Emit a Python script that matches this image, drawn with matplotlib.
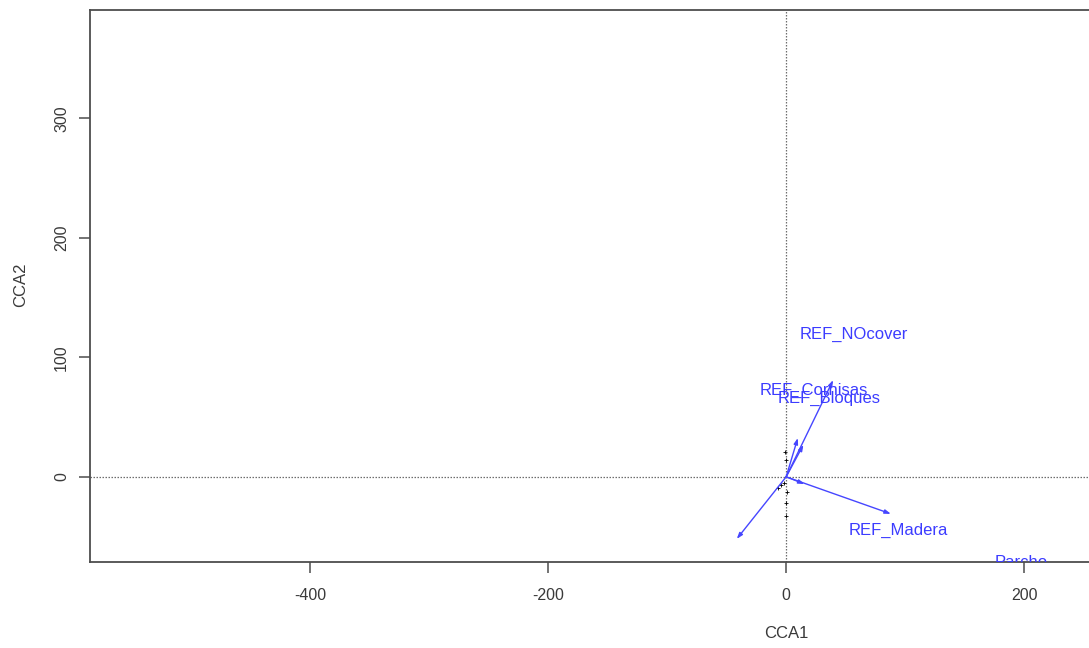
import matplotlib
matplotlib.use("Agg")
import matplotlib.pyplot as plt

plt.rcParams['font.family'] = ['Liberation Sans', 'DejaVu Sans']

# Biplot arrows (environmental variables), CCA1 / CCA2 scores of arrow tips
arrow_x = [39.5, 9.8, 14.5, 88.0, -41.5, 15.4]
arrow_y = [81.0, 32.5, 26.8, -31.0, -52.0, -6.0]

# Variable labels and their positions
label_names = ["REF_NOcover", "REF_Cornisas", "REF_Bloques", "REF_Madera", "Parcho"]
label_x = [56.7, 23.4, 36.1, 94.5, 197.5]
label_y = [118.8, 72.0, 65.3, -45.2, -71.5]

# Site scores clustered around the origin
site_x = [-4.0, -6.5, -2.0, 0.5, 0.0, 0.0, 0.0, -1.0]
site_y = [-7.0, -9.5, -5.0, -13.0, -22.0, -33.0, 14.0, 21.0]

x_ticks = [-400, -200, 0, 200]
y_ticks = [0, 100, 200, 300]

W, H = 1089, 648
fig = plt.figure(figsize=(W / 100, H / 100), dpi=100)
fig.patch.set_facecolor('white')

# Plot region: left 90px, top 10px, bottom 562px; it runs past the right edge
xlim = (-585.0, 585.0)
ylim = (-71.3, 390.8)
left_px, top_px, bottom_px = 90, 10, 562
px_per_x = 1.19
right_px = left_px + (xlim[1] - xlim[0]) * px_per_x
ax_w_px = right_px - left_px
ax_h_px = bottom_px - top_px
ax = fig.add_axes([left_px / W, (H - bottom_px) / H, ax_w_px / W, ax_h_px / H])
ax.set_xlim(*xlim)
ax.set_ylim(*ylim)

edge = '#4d4d4d'
txt = '#3a3a3a'
fs = 12
for s in ax.spines.values():
    s.set_color(edge)
    s.set_linewidth(1.3)

ax.set_xticks(x_ticks)
ax.set_yticks(y_ticks)
ax.set_xticklabels([str(v) for v in x_ticks])
ax.set_yticklabels([str(v) for v in y_ticks], rotation=90, va='center')
ax.tick_params(axis='both', direction='out', length=8, width=1.1, color=edge,
               labelsize=fs - 0.5, labelcolor=txt)
ax.tick_params(axis='x', pad=11)
ax.tick_params(axis='y', pad=7)

ax.set_xlabel('CCA1', fontsize=fs, color=txt)
ax.set_ylabel('CCA2', fontsize=fs, color=txt)
ax.xaxis.label.set_va('center')
ax.yaxis.label.set_va('center')
ax.xaxis.set_label_coords(0.5, -(633 - bottom_px) / ax_h_px)
ax.yaxis.set_label_coords((21 - left_px) / ax_w_px, (bottom_px - 285) / ax_h_px)

# Reference lines through the origin
ax.axhline(0, color='#6e6e6e', linestyle=(0, (1.2, 1.2)), linewidth=0.9, zorder=1)
ax.axvline(0, color='#6e6e6e', linestyle=(0, (1.2, 1.2)), linewidth=0.9, zorder=1)

# Sites
ax.scatter(site_x, site_y, marker='+', s=6, color='black', linewidths=0.6, zorder=2)

# Arrows
arrow_col = '#4646ff'
for x, y in zip(arrow_x, arrow_y):
    ax.annotate('', xy=(x, y), xytext=(0, 0),
                arrowprops=dict(arrowstyle='-|>,head_length=0.35,head_width=0.12',
                                color=arrow_col, lw=1.0, shrinkA=0, shrinkB=0),
                zorder=3)

# Labels
for name, x, y in zip(label_names, label_x, label_y):
    ax.text(x, y, name, color='#3c3cff', fontsize=fs, ha='center', va='center',
            clip_on=True, zorder=4)

fig.savefig('out.png', dpi=100, facecolor='white')
